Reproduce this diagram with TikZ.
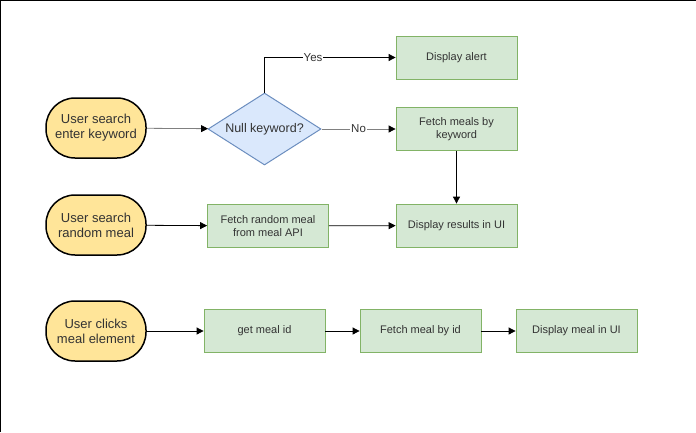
\documentclass[tikz,border=0pt]{standalone}
\usepackage{fontspec}
\setmainfont{Liberation Sans}
\usetikzlibrary{arrows.meta,shapes.geometric}
\definecolor{termfill}{HTML}{FFE599}
\definecolor{decfill}{HTML}{DAE8FC}
\definecolor{decline}{HTML}{6C8EBF}
\definecolor{boxfill}{HTML}{D5E8D4}
\definecolor{boxline}{HTML}{82B366}
\definecolor{txt}{HTML}{333333}
\begin{document}
\begin{tikzpicture}[
  x=1pt, y=-1pt,
  terminal/.style={rectangle, rounded corners=29pt, draw=black, line width=1.5pt, fill=termfill, minimum width=100pt, minimum height=60pt, align=center, text=txt, font=\fontsize{13}{15}\selectfont},
  decision/.style={diamond, aspect=1.57, draw=decline, line width=1pt, fill=decfill, minimum width=113pt, minimum height=72pt, inner sep=0pt, text=txt, font=\fontsize{12.5}{15}\selectfont},
  process/.style={rectangle, draw=boxline, line width=0.8pt, fill=boxfill, minimum width=121pt, minimum height=43pt, align=center, text=txt, font=\fontsize{11}{13}\selectfont},
  wire/.style={-{Triangle[length=7pt,width=7pt,black]}, line width=0.8pt},
  greywire/.style={wire, draw=black!50},
  lbl/.style={fill=white, inner sep=1pt, text=txt, font=\fontsize{11.5}{13}\selectfont}
]
\useasboundingbox (0,0) rectangle (696,432);
\draw[line width=1pt] (0,432) -- (0,0) -- (696,0);

% Start events
\node[terminal] (search) at (96,128) {User search\\enter keyword};
\node[terminal] (random) at (96,225) {User search\\random meal};
\node[terminal] (clicks) at (96,331) {User clicks\\meal element};

% Decision
\node[decision] (null) at (264.5,129) {Null keyword?};

% Processes
\node[process] (alert) at (456.5,57.5) {Display alert};
\node[process] (fetchkw) at (456.5,129) {Fetch meals by\\keyword};
\node[process] (fetchrnd) at (268,226) {Fetch random meal\\from meal API};
\node[process] (results) at (456.5,225.5) {Display results in UI};
\node[process] (mealid) at (264.5,331) {get meal id};
\node[process] (fetchid) at (420.5,331) {Fetch meal by id};
\node[process] (showmeal) at (576.5,331) {Display meal in UI};

% Wires
\draw[greywire] (search) -- (null);
\draw[wire] (null.north) |- node[lbl, pos=0.685] {Yes} (alert.west);
\draw[greywire] (null) -- node[lbl] {No} (fetchkw);
\draw[wire] (fetchkw) -- (results);
\draw[wire] (random) -- (fetchrnd);
\draw[wire] (fetchrnd) -- (results);
\draw[wire] (clicks) -- (mealid);
\draw[wire] (mealid) -- (fetchid);
\draw[wire] (fetchid) -- (showmeal);

\end{tikzpicture}
\end{document}
